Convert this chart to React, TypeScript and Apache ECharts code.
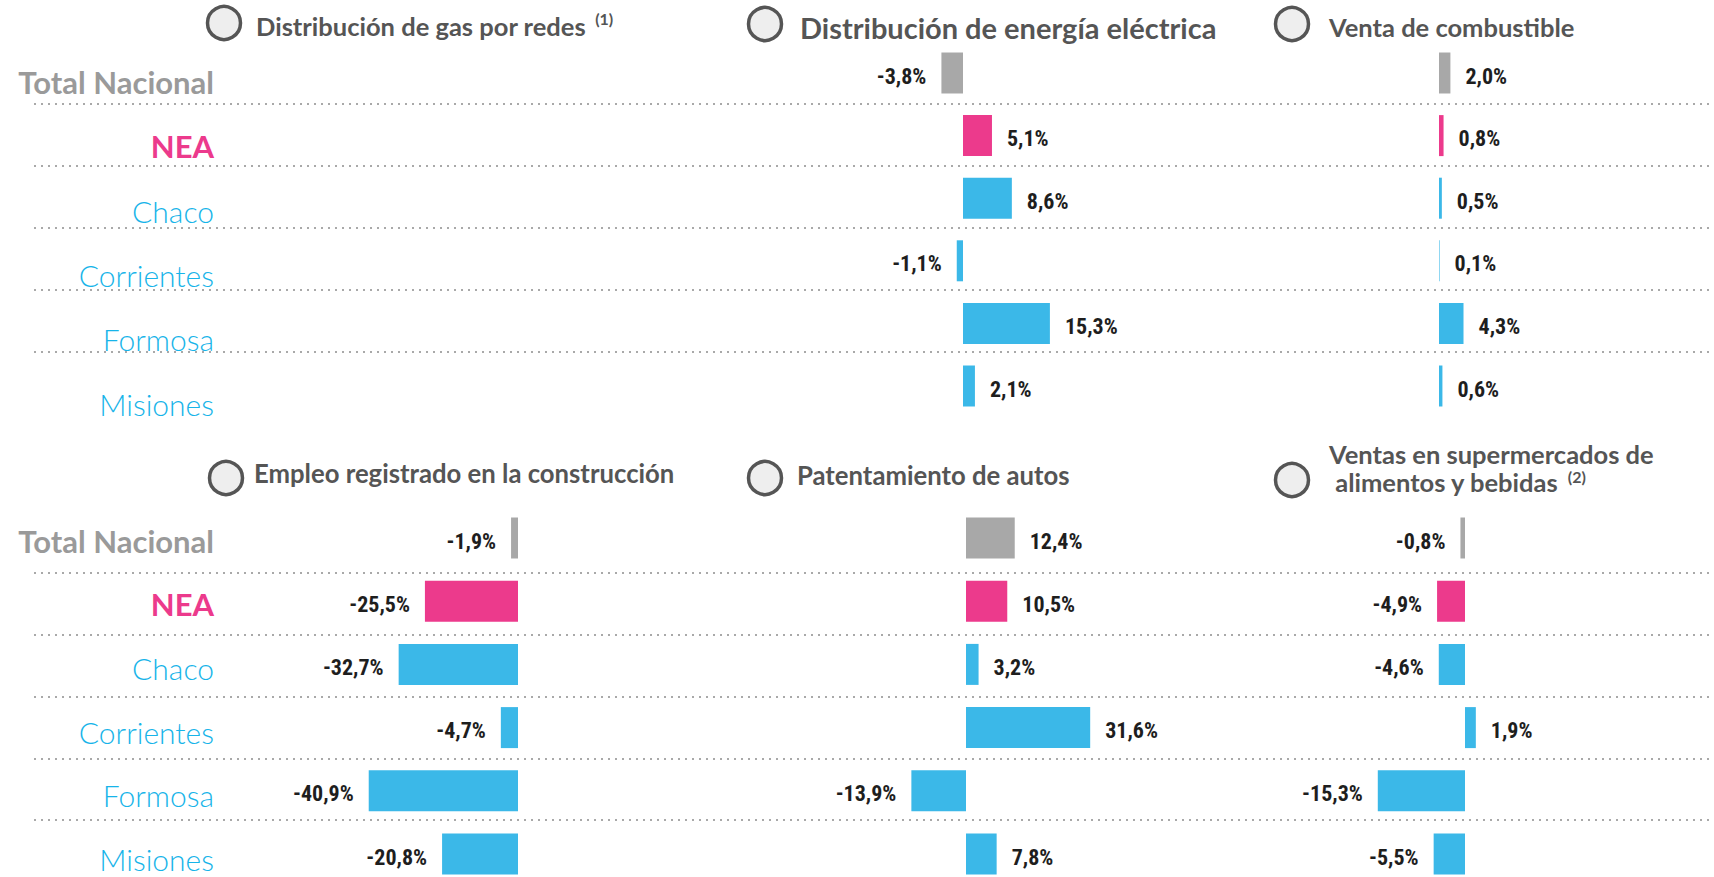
import React, { useEffect, useRef } from "react";
import * as echarts from "echarts";

// ---------- data ----------
const categories = ["Total Nacional", "NEA", "Chaco", "Corrientes", "Formosa", "Misiones"];
const gasRedes: number[] = []; // sin datos
const energiaElectrica = [-3.8, 5.1, 8.6, -1.1, 15.3, 2.1];
const ventaCombustible = [2.0, 0.8, 0.5, 0.1, 4.3, 0.6];
const empleoConstruccion = [-1.9, -25.5, -32.7, -4.7, -40.9, -20.8];
const patentamientoAutos = [12.4, 10.5, 3.2, 31.6, -13.9, 7.8];
const ventasSupermercados = [-0.8, -4.9, -4.6, 1.9, -15.3, -5.5];

const titleGas = "Distribución de gas por redes";
const titleEnergia = "Distribución de energía eléctrica";
const titleCombustible = "Venta de combustible";
const titleConstruccion = "Empleo registrado en la construcción";
const titleAutos = "Patentamiento de autos";
const titleSuper1 = "Ventas en supermercados de";
const titleSuper2 = " alimentos y bebidas";
const sup1 = "(1)";
const sup2 = "(2)";

// ---------- layout ----------
const ROWS = [
  { barTop: 41.7, barRowH: 62.6, labelTop: 50, labelRowH: 64.3, lineTop: 104, lineRowH: 62 },
  { barTop: 506.4, barRowH: 63.2, labelTop: 508.9, labelRowH: 63.6, lineTop: 573, lineRowH: 61.75 },
];

const panels = [
  { values: gasRedes, row: 0, zeroX: 470, ppu: 5.7, min: -10, max: 10 },
  { values: energiaElectrica, row: 0, zeroX: 963, ppu: 5.68, min: -10, max: 20 },
  { values: ventaCombustible, row: 0, zeroX: 1439, ppu: 5.7, min: -5, max: 10 },
  { values: empleoConstruccion, row: 1, zeroX: 518, ppu: 3.65, min: -50, max: 0 },
  { values: patentamientoAutos, row: 1, zeroX: 966, ppu: 3.93, min: -20, max: 40 },
  { values: ventasSupermercados, row: 1, zeroX: 1465, ppu: 5.7, min: -20, max: 5 },
];

const GREY = "#a8a8a8";
const PINK = "#ec3a8c";
const BLUE = "#3bb8e8";
const TITLE_COLOR = "#555555";
const TITLE_FONT = "Lato, 'Open Sans', sans-serif";
const VALUE_FONT = "'Liberation Sans Narrow', 'Roboto Condensed', Roboto, sans-serif";

const fmt = (v: number) => v.toFixed(1).replace(".", ",") + "%";

function buildOption() {
  const grid: any[] = [];
  const xAxis: any[] = [];
  const yAxis: any[] = [];
  const series: any[] = [];

  ROWS.forEach((r) => {
    // row labels
    grid.push({ left: 214, width: 1, top: r.labelTop, height: r.labelRowH * 6, outerBoundsMode: "none" });
    xAxis.push({ type: "value", gridIndex: grid.length - 1, show: false, min: 0, max: 1 });
    yAxis.push({
      type: "category",
      gridIndex: grid.length - 1,
      data: categories,
      inverse: true,
      axisLine: { show: false },
      axisTick: { show: false },
      splitLine: { show: false },
      axisLabel: {
        margin: 0,
        formatter: (v: string, i: number) =>
          i === 0 ? `{tn|${v}}` : i === 1 ? `{nea|${v}}` : `{prov|${v}}`,
        rich: {
          tn: { fontFamily: TITLE_FONT, fontWeight: 700, fontSize: 31, lineHeight: 32, color: "#9a9a9a" },
          nea: { fontFamily: TITLE_FONT, fontWeight: 700, fontSize: 31, lineHeight: 32, color: PINK },
          prov: { fontFamily: TITLE_FONT, fontWeight: 300, fontSize: 30, lineHeight: 31, color: "#17b4e9" },
        },
      },
    });
    // dotted separators
    grid.push({ left: 34, right: 0, top: r.lineTop, height: r.lineRowH * 4, outerBoundsMode: "none" });
    xAxis.push({ type: "value", gridIndex: grid.length - 1, show: false, min: 0, max: 1 });
    yAxis.push({
      type: "category",
      gridIndex: grid.length - 1,
      data: categories.slice(1),
      inverse: true,
      boundaryGap: false,
      axisLine: { show: false },
      axisTick: { show: false },
      axisLabel: { show: false },
      splitLine: { show: true, lineStyle: { color: "#a9a9a9", width: 2, type: [2, 5] } },
    });
  });

  panels.forEach((p) => {
    const r = ROWS[p.row];
    grid.push({
      left: p.zeroX + p.ppu * p.min,
      width: p.ppu * (p.max - p.min),
      top: r.barTop,
      height: r.barRowH * 6,
      outerBoundsMode: "none",
    });
    const gi = grid.length - 1;
    xAxis.push({ type: "value", gridIndex: gi, show: false, min: p.min, max: p.max });
    yAxis.push({ type: "category", gridIndex: gi, data: categories, inverse: true, show: false });
    series.push({
      type: "bar",
      xAxisIndex: gi,
      yAxisIndex: gi,
      barWidth: 41,
      data: p.values.map((v) => ({ value: v, label: { position: v < 0 ? "left" : "right" } })),
      itemStyle: {
        color: (d: any) => (d.dataIndex === 0 ? GREY : d.dataIndex === 1 ? PINK : BLUE),
      },
      label: {
        show: true,
        distance: 15,
        offset: [0, 3],
        formatter: (d: any) => fmt(d.value),
        fontFamily: VALUE_FONT,
        fontWeight: 700,
        fontSize: 22,
        color: "#1e1e1e",
      },
    });
  });

  const circle = (cx: number, cy: number) => ({
    type: "circle",
    shape: { cx, cy, r: 16.5 },
    style: { fill: "#eeeeee", stroke: "#555555", lineWidth: 3.5 },
  });
  const title = (text: string, x: number, y: number, size: number, lineHeight?: number) => ({
    type: "text",
    x,
    y,
    style: {
      text,
      fill: TITLE_COLOR,
      fontFamily: TITLE_FONT,
      fontWeight: 700,
      fontSize: size,
      lineHeight: lineHeight || size * 1.2,
      verticalAlign: "middle",
      align: "left",
      rich: {
        sup: { fontSize: 16, fontWeight: 700, fontFamily: TITLE_FONT, fill: TITLE_COLOR, verticalAlign: "top", padding: [0, 0, 0, 9] },
      },
    },
  });

  const graphic = [
    circle(224, 23),
    title(`${titleGas}{sup|${sup1}}`, 256, 26, 25.5),
    circle(765, 24),
    title(titleEnergia, 800, 27, 29),
    circle(1292, 24),
    title(titleCombustible, 1329, 27, 25.5),
    circle(226, 478),
    title(titleConstruccion, 254, 473, 25.7),
    circle(765, 478),
    title(titleAutos, 797, 475, 25.7),
    circle(1292, 480),
    title(`${titleSuper1}\n${titleSuper2}{sup|${sup2}}`, 1329, 468, 25.5, 28),
  ];

  return {
    animation: false,
    backgroundColor: "#ffffff",
    grid,
    xAxis,
    yAxis,
    series,
    graphic,
  };
}

export default function App() {
  const ref = useRef<HTMLDivElement>(null);
  useEffect(() => {
    if (!ref.current) return;
    const chart = echarts.init(ref.current, null, { renderer: "svg" });
    chart.setOption(buildOption() as any);
    return () => chart.dispose();
  }, []);
  return (
    <div
      ref={ref}
      style={{ position: "fixed", left: 0, top: 0, width: 1714, height: 877 }}
    />
  );
}
